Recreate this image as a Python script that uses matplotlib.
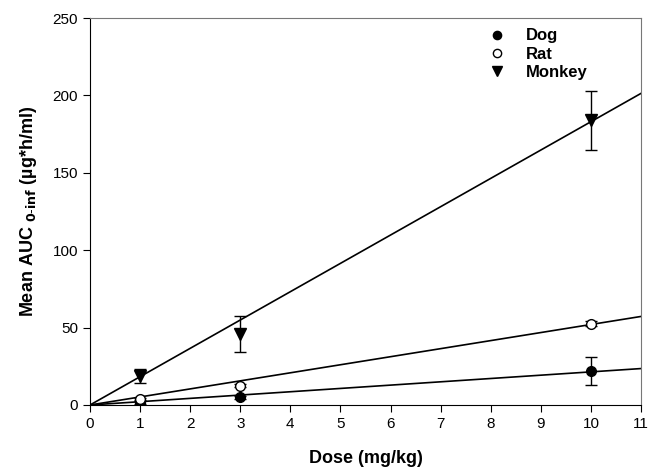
import numpy as np
from matplotlib import pyplot as plt

plt.rcParams['font.family'] = ['Liberation Sans', 'DejaVu Sans']

doses = [1, 3, 10]

dog_auc = [1.5, 5.0, 22.0]
dog_err = [1.0, 1.0, 9.0]
rat_auc = [4.0, 12.5, 52.5]
rat_err = [0.5, 1.0, 1.5]
monkey_auc = [19.0, 46.0, 184.0]
monkey_err = [4.5, 11.5, 19.0]

# fitted slopes through the origin
dog_slope = 2.14
rat_slope = 5.2
monkey_slope = 18.3


def main():
    fig = plt.figure(figsize=(6.49, 4.70), dpi=100)
    ax = fig.add_axes([90 / 649, 65 / 470, 551 / 649, 387 / 470])

    xfit = np.array([0, 11])
    for slope in [dog_slope, rat_slope, monkey_slope]:
        ax.plot(xfit, slope * xfit, color='black', lw=1.2, zorder=2)

    ax.errorbar(doses, dog_auc, yerr=dog_err, fmt='o', color='black', mfc='black', mec='black',
                ms=7, capsize=4, elinewidth=1, label='Dog', zorder=3)
    ax.errorbar(doses, rat_auc, yerr=rat_err, fmt='o', color='black', mfc='white', mec='black',
                ms=7, capsize=4, elinewidth=1, label='Rat', zorder=3)
    ax.errorbar(doses, monkey_auc, yerr=monkey_err, fmt='v', color='black', mfc='black', mec='black',
                ms=8, capsize=4, elinewidth=1, label='Monkey', zorder=3)

    ax.set_xlim(0, 11)
    ax.set_ylim(0, 250)
    ax.set_xticks(range(0, 12))
    ax.set_yticks(range(0, 251, 50))
    ax.tick_params(direction='out', length=5, labelsize=11)

    for s in ['top', 'right']:
        ax.spines[s].set_color('#777777')

    ax.set_xlabel('Dose (mg/kg)', fontsize=13, fontweight='bold', labelpad=14)
    ax.set_ylabel(r'Mean AUC $_{\mathbf{0\text{-}inf}}$ (µg*h/ml)', fontsize=13, fontweight='bold', labelpad=10)

    handles, labels = ax.get_legend_handles_labels()
    handles = [h[0] for h in handles]
    ax.legend(handles, labels, loc='upper left', bbox_to_anchor=(0.697, 1.012), frameon=False,
              prop={'weight': 'bold', 'size': 12}, handletextpad=1.2, labelspacing=0.2,
              handlelength=1.0, markerscale=0.85)

    fig.savefig('out.png', dpi=100)


if __name__ == '__main__':
    main()
